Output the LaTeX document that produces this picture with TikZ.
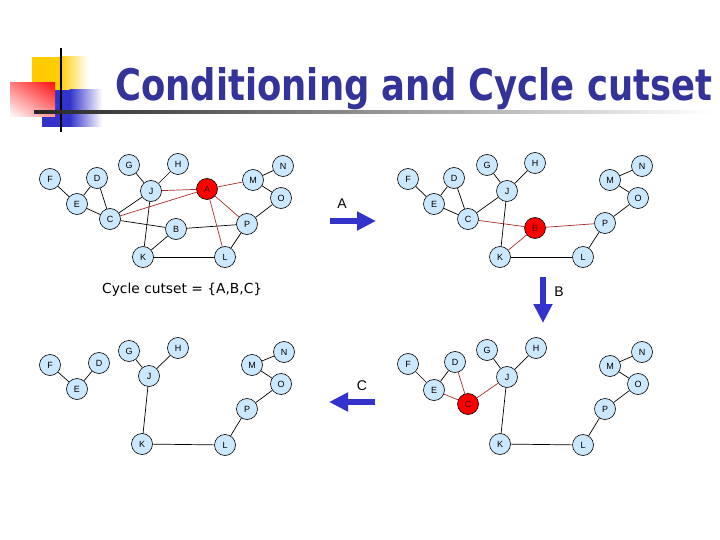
\documentclass[tikz,border=0pt]{standalone}
\usepackage{fontspec}
\setmainfont{Liberation Sans}
\newfontfamily\titlefont{DejaVu Sans}
\usetikzlibrary{arrows.meta,shadings}
\definecolor{nodeblue}{RGB}{204,232,255}
\definecolor{titleblue}{RGB}{51,51,153}
\definecolor{arrowblue}{RGB}{51,51,204}
\definecolor{edgered}{RGB}{165,45,45}
\definecolor{logoyellow}{RGB}{255,204,0}
\definecolor{logored}{RGB}{255,20,20}
\definecolor{logoblue}{RGB}{51,51,204}
\tikzset{
  vnode/.style={circle, draw=black, fill=nodeblue, minimum size=21pt, inner sep=0pt,
    font=\fontsize{9}{9}\selectfont, line width=0.6pt},
  rnode/.style={vnode, fill=red, text=black!70!red},
  edge/.style={draw=black, line width=0.7pt},
  redge/.style={draw=edgered, line width=0.7pt},
  bigarrow/.style={draw=arrowblue, line width=6pt, -{Triangle[length=19pt,width=18pt]}},
  arrowlabel/.style={font=\fontsize{14}{14}\selectfont},
}
\begin{document}
\begin{tikzpicture}[x=1pt,y=-1pt]
\useasboundingbox[fill=white] (0,0) rectangle (720,540);
% logo
\fill[logoyellow] (32,57) rectangle (60,90);
\shade[left color=logoyellow, right color=white] (59.5,57) rectangle (88,90);
\fill[logoblue] (42,90) rectangle (70,127);
\shade[left color=logoblue, right color=white] (69.5,90) rectangle (102,127);
\shade[upper right=logored, upper left=logored!55, lower right=logored!45, lower left=white] (10,83) rectangle (55,117);
\draw[black, line width=2pt] (61,48) -- (61,132);
\shade[left color=black!85, right color=white] (34,110.8) rectangle (712,113.2);
% title
\node[anchor=base west, inner sep=0pt, text=titleblue] (title) at (115,101)
  {\resizebox{597pt}{33pt}{\titlefont\bfseries Conditioning and Cycle cutset}};

% ---------- graph 1 (top left)
\foreach \n/\x/\y in {F/50/179, D/97/178, E/77/204, G/129/165, H/178/164, J/151/191,
  M/253/180, N/283/166, O/281/198, C/110/219, B/176/229, P/247/224, K/143/257, L/225/257}
  \node[vnode] (a\n) at (\x,\y) {\n};
\node[rnode] (aA) at (207,189) {A};
\foreach \u/\v in {F/E, E/D, D/C, E/C, G/J, H/J, J/C, J/K, M/N, M/O, O/P, C/B, B/P, B/K, K/L, L/P}
  \draw[edge] (a\u) -- (a\v);
\foreach \v in {J, C, M, P, L}
  \draw[redge] (aA) -- (a\v);

% ---------- graph 2 (top right)
\foreach \n/\x/\y in {F/408/179, D/454/178, E/434/204, G/487/165, H/535/163, J/507/191,
  M/610/180, N/642/166, O/638/198, C/468/219, P/605/223, K/500/257, L/583/257}
  \node[vnode] (b\n) at (\x,\y) {\n};
\node[rnode] (bB) at (535,228) {B};
\foreach \u/\v in {F/E, E/D, D/C, E/C, G/J, H/J, J/C, J/K, M/N, M/O, O/P, K/L, L/P}
  \draw[edge] (b\u) -- (b\v);
\foreach \v in {C, P, K}
  \draw[redge] (bB) -- (b\v);

% ---------- graph 3 (bottom left)
\foreach \n/\x/\y in {F/50/365, D/99/363, E/77/389, G/129/351, H/178/348, J/149/376,
  M/252/365, N/284/352, O/281/384, P/247/409, K/142/444, L/225/445}
  \node[vnode] (c\n) at (\x,\y) {\n};
\foreach \u/\v in {F/E, E/D, G/J, H/J, J/K, K/L, L/P, P/O, O/M, M/N}
  \draw[edge] (c\u) -- (c\v);

% ---------- graph 4 (bottom right)
\foreach \n/\x/\y in {F/408/364, D/455/362, E/434/390, G/487/350, H/536/348, J/507/377,
  M/610/366, N/642/352, O/638/384, P/605/409, K/500/444, L/583/445}
  \node[vnode] (d\n) at (\x,\y) {\n};
\node[rnode] (dC) at (468,404) {C};
\foreach \u/\v in {F/E, E/D, G/J, H/J, J/K, K/L, L/P, P/O, O/M, M/N}
  \draw[edge] (d\u) -- (d\v);
\foreach \v in {E, D, J}
  \draw[redge] (dC) -- (d\v);

% ---------- arrows
\coordinate (aS) at (330,221); \coordinate (aT) at (376,221);
\coordinate (bS) at (543,277); \coordinate (bT) at (543,323);
\coordinate (cS) at (375,402); \coordinate (cT) at (329,402);
\draw[bigarrow] (aS) -- (aT);
\draw[bigarrow] (bS) -- (bT);
\draw[bigarrow] (cS) -- (cT);
\node[arrowlabel] (la) at (342,204) {A};
\node[arrowlabel] (lb) at (559,292) {B};
\node[arrowlabel] (lc) at (362,386) {C};

% cutset text
\node[anchor=west, inner sep=0pt] (cut) at (102,290)
  {\resizebox{160pt}{!}{\titlefont\fontsize{13}{13}\selectfont Cycle cutset = \{A,B,C\}}};
\end{tikzpicture}
\end{document}
